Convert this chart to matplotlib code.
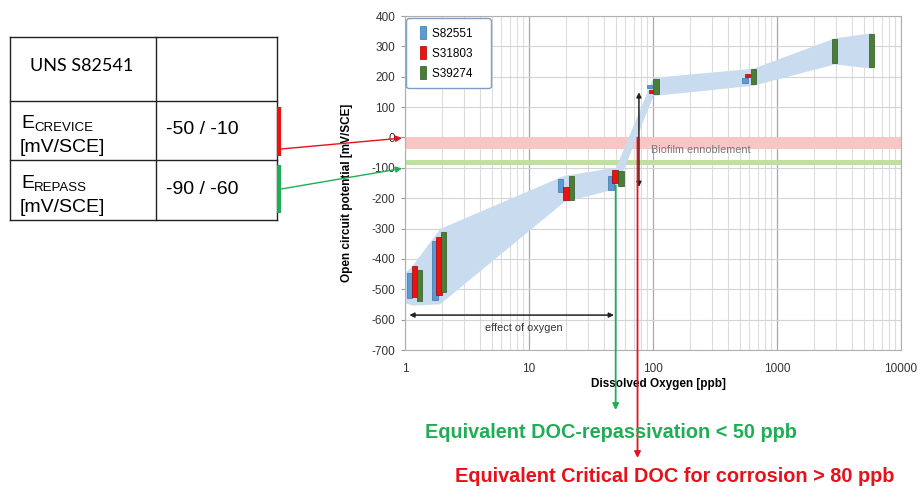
import numpy as np
import matplotlib
matplotlib.use("Agg")
import matplotlib.pyplot as plt
from matplotlib.patches import Patch, Rectangle
from matplotlib.legend_handler import HandlerPatch

plt.rcParams['font.family'] = ['Liberation Sans', 'DejaVu Sans']
plt.rcParams['axes.unicode_minus'] = False

# measured bars (x in ppb, lo/hi in mV/SCE)
s82551_x = [1.09, 1.75, 17.9, 46, 94, 552]
s82551_lo = [-530, -535, -179, -172, 163, 180]
s82551_hi = [-445, -340, -136, -126, 173, 196]

s31803_x = [1.19, 1.88, 19.9, 49.4, 97, 578]
s31803_lo = [-524, -518, -205, -150, 145, 199]
s31803_hi = [-422, -327, -162, -106, 155, 209]

s39274_x = [1.31, 2.04, 22.0, 55.2, 106, 646, 2910, 5780]
s39274_lo = [-540, -508, -205, -159, 143, 176, 245, 232]
s39274_hi = [-438, -311, -126, -110, 193, 226, 324, 340]

# light blue envelope
band_x = [1.0, 1.15, 1.9, 19, 50, 100, 640, 2900, 5800]
band_hi = [-445, -420, -300, -125, -98, 198, 228, 328, 345]
band_lo = [-545, -552, -548, -212, -168, 138, 172, 242, 228]

crevice_band = (-38, 0)
repass_band = (-90, -73)
doc_repass = 50
doc_crit = 75

materials = ['S82551', 'S31803', 'S39274']
colors = ['#5b9bd5', '#ee1111', '#4a7d36']
edges = ['#3d74a8', '#a00000', '#2f5522']

fig = plt.figure(figsize=(9.22, 4.93), dpi=100)
ax = fig.add_axes([405/922, 143/493, 496/922, 334/493])

ax.fill_between(band_x, band_lo, band_hi, color='#c9dcef', lw=0, zorder=1)
ax.axhspan(*crevice_band, color='#f9c6c6', lw=0, zorder=0.8)
ax.axhspan(*repass_band, color='#bfe0a0', lw=0, zorder=0.8)

hw = 0.022  # half width in decades
for xs, lo, hi, c, e in zip([s82551_x, s31803_x, s39274_x],
                            [s82551_lo, s31803_lo, s39274_lo],
                            [s82551_hi, s31803_hi, s39274_hi], colors, edges):
    xs = np.array(xs)
    left = xs * 10**(-hw)
    w = xs * 10**hw - left
    ax.bar(left, np.array(hi) - np.array(lo), bottom=lo, width=w, align='edge',
           color=c, edgecolor=e, lw=0.5, zorder=3)

ax.set_xscale('log')
ax.set_xlim(1, 10000)
ax.set_ylim(-700, 400)
ax.set_yticks(np.arange(-700, 401, 100))
ax.set_xticks([1, 10, 100, 1000, 10000])
ax.set_xticklabels(['1', '10', '100', '1000', '10000'])
ax.grid(which='major', axis='x', color='#a8a8a8', lw=0.9, zorder=0)
ax.grid(which='minor', axis='x', color='#dcdcdc', lw=0.8, zorder=0)
ax.grid(which='major', axis='y', color='#d4d4d4', lw=0.8, zorder=0)
ax.set_axisbelow(True)
ax.tick_params(which='both', labelsize=8.5, colors='#333333', length=0, pad=9)
ax.tick_params(axis='y', length=3, color='#999999', pad=4)
for s in ax.spines.values():
    s.set_color('#b0b0b0')
    s.set_linewidth(0.8)

ax.set_xlabel('Dissolved Oxygen [ppb]', fontsize=8.5, fontweight='bold')
ax.xaxis.set_label_coords(0.51, -0.085)
ax.set_ylabel('Open circuit potential [mV/SCE]', fontsize=8.5, fontweight='bold')
ax.yaxis.set_label_coords(-0.105, 0.47)


def narrow_patch(legend, orig_handle, xdescent, ydescent, width, height, fontsize):
    w = 0.5 * fontsize
    return Rectangle((-xdescent + width - w, -ydescent), w, height)


handles = [Patch(facecolor=c, edgecolor=e, lw=0.5) for c, e in zip(colors, edges)]
leg = ax.legend(handles, [m + '   ' for m in materials], loc='upper left',
                bbox_to_anchor=(0.0, 0.997), borderaxespad=0.1,
                fontsize=8.5, handlelength=0.95, handleheight=1.3, labelspacing=0.55,
                handletextpad=0.55, borderpad=0.7, fancybox=True, framealpha=1,
                handler_map={Patch: HandlerPatch(patch_func=narrow_patch)})
leg.get_frame().set_edgecolor('#7f9fc4')
leg.get_frame().set_linewidth(1.0)
leg.set_zorder(6)

# annotations inside chart
ax.annotate('', xy=(1.03, -585), xytext=(51, -585),
            arrowprops=dict(arrowstyle='<|-|>', color='#222222', lw=1.1, mutation_scale=7))
ax.text(9, -628, 'effect of oxygen', ha='center', va='center', fontsize=7.8, color='#333333')
ax.annotate('', xy=(77, 158), xytext=(77, -172),
            arrowprops=dict(arrowstyle='<|-|>', color='#222222', lw=1.1, mutation_scale=7))
ax.text(97, -42, 'Biofilm ennoblement', fontsize=7.8, color='#777777', va='center')

# DOC lines going below the chart
ax.annotate('', xy=(doc_repass, 83), xycoords=('data', 'figure pixels'),
            xytext=(doc_repass, -158), textcoords='data', annotation_clip=False,
            arrowprops=dict(arrowstyle='-|>', color='#1fae55', lw=1.3, mutation_scale=9,
                            shrinkA=0, shrinkB=0))
ax.annotate('', xy=(doc_crit, 35), xycoords=('data', 'figure pixels'),
            xytext=(doc_crit, 0), textcoords='data', annotation_clip=False,
            arrowprops=dict(arrowstyle='-|>', color='#e8101a', lw=1.3, mutation_scale=9,
                            shrinkA=0, shrinkB=0))

# overlay in pixel coords for the table and bottom texts
lay = fig.add_axes([0, 0, 1, 1], zorder=5)
lay.set_xlim(0, 922)
lay.set_ylim(493, 0)
lay.axis('off')
lay.patch.set_alpha(0)

tx0, tx1, tx2 = 10, 156, 277
ty = [37, 101, 160, 220]
for y in ty:
    lay.plot([tx0, tx2], [y, y], color='#222222', lw=1.0)
for x in (tx0, tx1, tx2):
    lay.plot([x, x], [ty[0], ty[-1]], color='#222222', lw=1.0)

lay.text(30, 66, 'UNS S82541', fontsize=13, va='center', family=['Lato', 'DejaVu Sans'])
lay.text(21, 128, 'E', fontsize=14, va='baseline')
lay.text(34, 131, 'CREVICE', fontsize=9.5, va='baseline')
lay.text(20, 152, '[mV/SCE]', fontsize=14, va='baseline')
lay.text(166, 130, '-50 / -10', fontsize=14, va='center')
lay.text(21, 188, 'E', fontsize=14, va='baseline')
lay.text(34, 191, 'REPASS', fontsize=9.5, va='baseline')
lay.text(20, 212, '[mV/SCE]', fontsize=14, va='baseline')
lay.text(166, 189, '-90 / -60', fontsize=14, va='center')

lay.plot([279, 279], [107, 156], color='#ee1111', lw=3, solid_capstyle='butt')
lay.plot([279, 279], [165, 213], color='#1fae55', lw=3, solid_capstyle='butt')

ax.annotate('', xy=(-0.006, -2), xycoords=('axes fraction', 'data'),
            xytext=(281, 149), textcoords=lay.transData, annotation_clip=False,
            arrowprops=dict(arrowstyle='-|>', color='#e8101a', lw=1.0, mutation_scale=9,
                            shrinkA=0, shrinkB=0))
ax.annotate('', xy=(-0.006, -102), xycoords=('axes fraction', 'data'),
            xytext=(281, 189), textcoords=lay.transData, annotation_clip=False,
            arrowprops=dict(arrowstyle='-|>', color='#1fae55', lw=1.0, mutation_scale=9,
                            shrinkA=0, shrinkB=0))

lay.text(425, 432, 'Equivalent DOC-repassivation < 50 ppb', fontsize=14.3,
         fontweight='bold', color='#1fae55', va='center')
lay.text(455, 477, 'Equivalent Critical DOC for corrosion > 80 ppb', fontsize=14.3,
         fontweight='bold', color='#e8101a', va='center')

fig.savefig('out.png', dpi=100)
